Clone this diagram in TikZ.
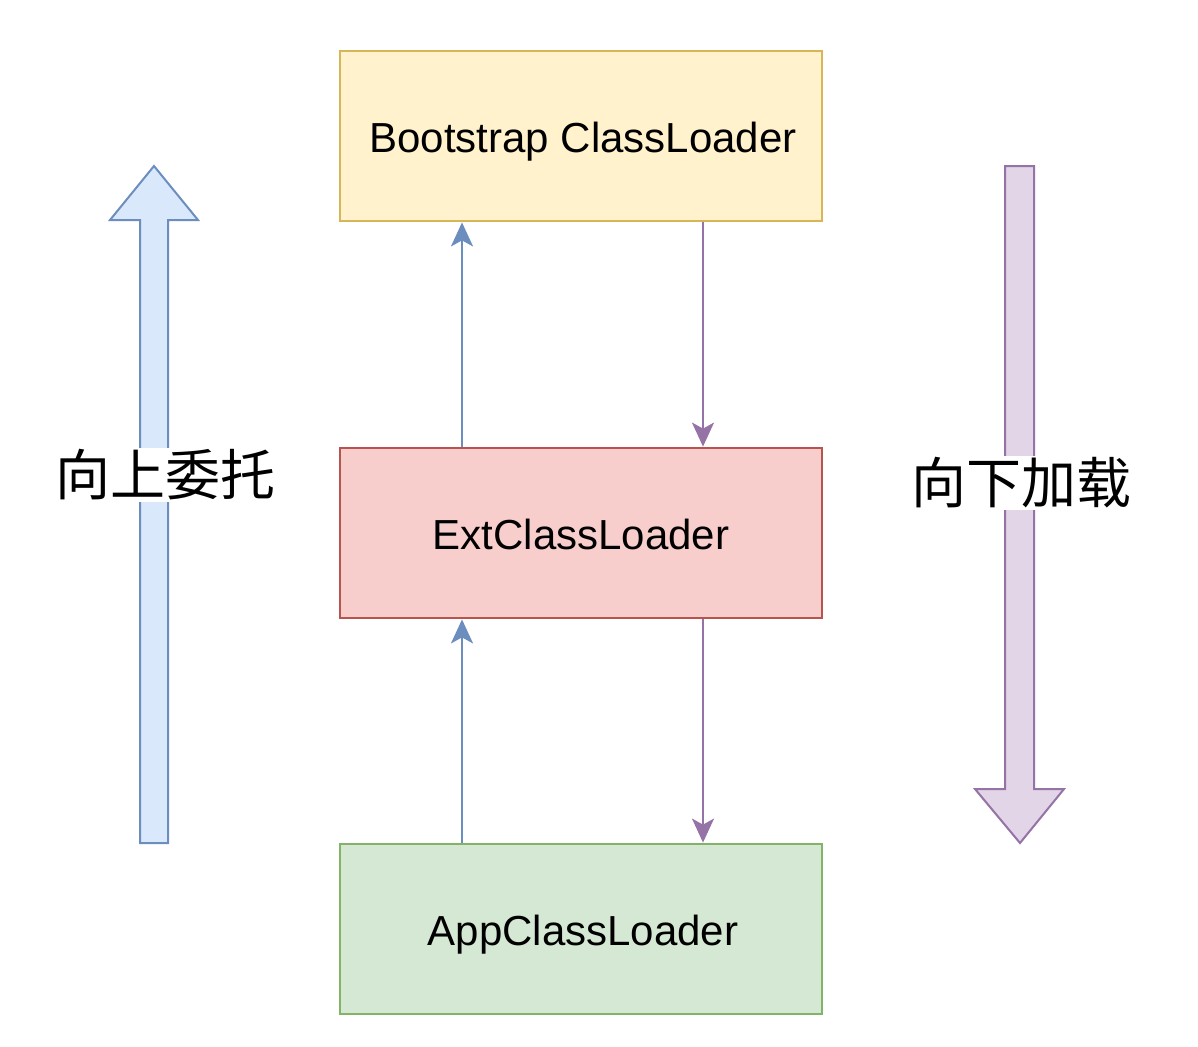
\documentclass[tikz,border=0pt]{standalone}
\usepackage{fontspec}
\setmainfont{Liberation Sans}
\newfontfamily\cjk{Noto Sans CJK SC}
\usetikzlibrary{arrows.meta}
\definecolor{bluefill}{HTML}{DAE8FC}
\definecolor{bluedraw}{HTML}{6C8EBF}
\definecolor{purplefill}{HTML}{E1D5E7}
\definecolor{purpledraw}{HTML}{9673A6}
\definecolor{yellowfill}{HTML}{FFF2CC}
\definecolor{yellowdraw}{HTML}{D6B656}
\definecolor{redfill}{HTML}{F8CECC}
\definecolor{reddraw}{HTML}{B85450}
\definecolor{greenfill}{HTML}{D5E8D4}
\definecolor{greendraw}{HTML}{82B366}
\tikzset{
  loader/.style={draw, line width=2.8pt, minimum width=482pt, minimum height=170pt, inner sep=0pt},
  loadertext/.style={anchor=base, inner sep=0pt, font=\fontsize{42}{50}\selectfont},
  upconn/.style={draw=bluedraw, line width=2.2pt, -{Stealth[length=24pt,width=22pt,inset=6pt]}},
  downconn/.style={draw=purpledraw, line width=2.2pt, -{Stealth[length=24pt,width=22pt,inset=6pt]}},
  biglabel/.style={fill=white, inner sep=2pt, font=\cjk\fontsize{55}{60}\selectfont},
  bigarrow/.style={line width=2pt, line join=miter}
}
\begin{document}
\begin{tikzpicture}[x=1pt,y=-1pt]
\useasboundingbox (0,0) rectangle (1198,1046);
% big arrows
\draw[bigarrow, draw=bluedraw, fill=bluefill]
  (140,843) -- (140,220) -- (110,220) -- (154,166) -- (198,220) -- (168,220) -- (168,843) -- cycle;
\draw[bigarrow, draw=purpledraw, fill=purplefill]
  (1005,166) -- (1034,166) -- (1034,789) -- (1064,789) -- (1020,843) -- (975,789) -- (1005,789) -- cycle;
\node[biglabel] (up) at (165,475) {向上委托};
\node[biglabel] (down) at (1021,483) {向下加载};
% boxes
\node[loader, draw=yellowdraw, fill=yellowfill] (boot) at (581,136) {};
\node[loader, draw=reddraw, fill=redfill] (ext) at (581,533) {};
\node[loader, draw=greendraw, fill=greenfill] (app) at (581,929) {};
\node[loadertext] (boottext) at (583,152) {Bootstrap ClassLoader};
\node[loadertext] (exttext) at (581,549) {ExtClassLoader};
\node[loadertext] (apptext) at (583,945) {AppClassLoader};
% connectors
\draw[upconn] (ext.north -| 462,0) -- (boot.south -| 462,0);
\draw[upconn] (app.north -| 462,0) -- (ext.south -| 462,0);
\draw[downconn] (boot.south -| 703,0) -- (ext.north -| 703,0);
\draw[downconn] (ext.south -| 703,0) -- (app.north -| 703,0);
\end{tikzpicture}
\end{document}
